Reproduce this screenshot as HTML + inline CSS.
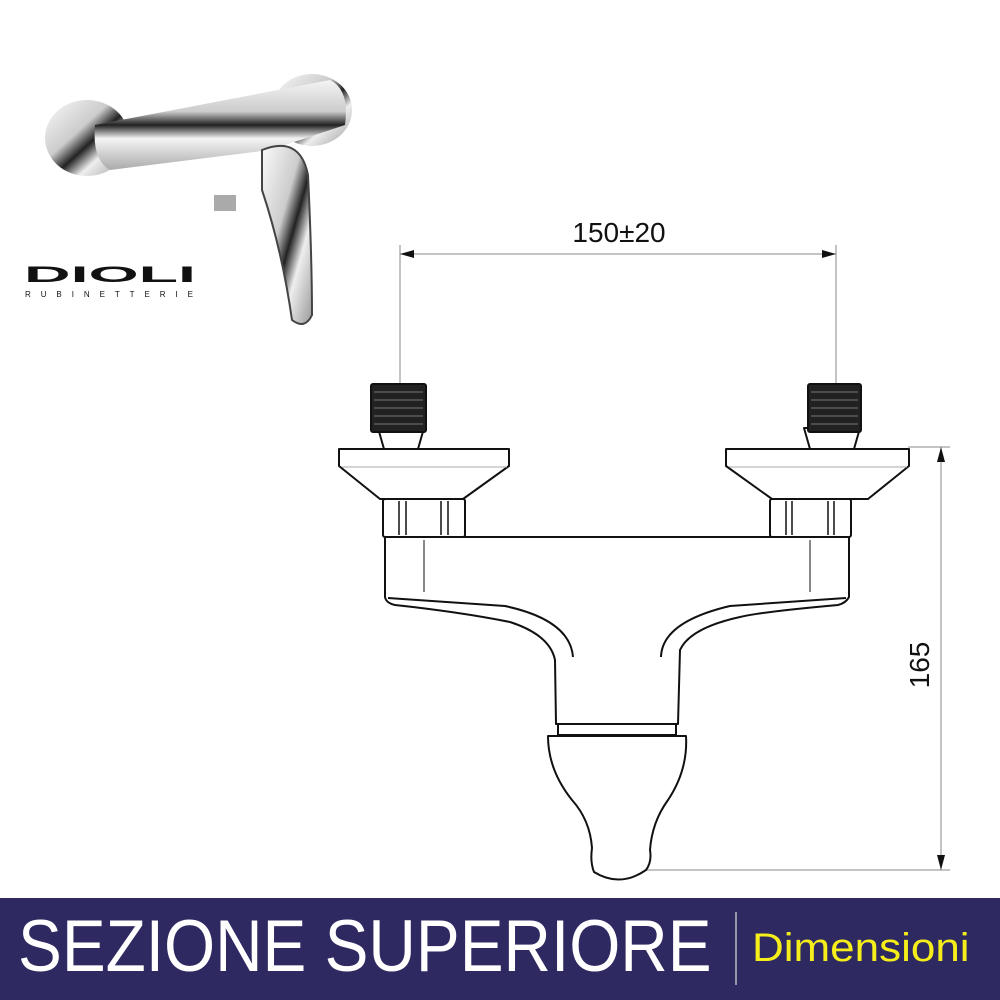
<!DOCTYPE html>
<html><head><meta charset="utf-8"><style>
html,body{margin:0;padding:0;background:#fff;width:1000px;height:1000px;overflow:hidden}
svg{display:block}
</style></head><body>
<svg width="1000" height="1000" viewBox="0 0 1000 1000" xmlns="http://www.w3.org/2000/svg">
<defs>
<linearGradient id="chrome" x1="0" y1="0" x2="1" y2="1">
<stop offset="0" stop-color="#fafafa"/><stop offset="0.4" stop-color="#ccc"/><stop offset="0.55" stop-color="#222"/><stop offset="0.7" stop-color="#eee"/><stop offset="1" stop-color="#999"/>
</linearGradient>
<linearGradient id="ch2" x1="0" y1="0" x2="0" y2="1">
<stop offset="0" stop-color="#f4f4f4"/><stop offset="0.35" stop-color="#ccc"/><stop offset="0.5" stop-color="#222"/><stop offset="0.65" stop-color="#f4f4f4"/><stop offset="1" stop-color="#aaa"/>
</linearGradient>
</defs>
<!-- product photo approx -->
<ellipse cx="87" cy="138" rx="42" ry="38" fill="url(#chrome)"/>
<ellipse cx="312" cy="110" rx="40" ry="36" fill="url(#chrome)"/>
<path d="M95 125 L330 80 Q350 90 345 125 L270 150 L110 170 Q92 160 95 125Z" fill="url(#ch2)"/>
<rect x="214" y="195" width="22" height="16" fill="#aaa"/>
<path d="M262 150 Q300 135 308 175 Q312 260 312 315 Q305 330 292 320 Q282 250 262 190Z" fill="url(#chrome)" stroke="#444" stroke-width="2"/>
<!-- logo -->
<text x="24" y="282" font-family="Liberation Sans, sans-serif" font-weight="bold" font-size="22" textLength="172" lengthAdjust="spacingAndGlyphs" fill="#111">DIOLI</text>
<text x="25" y="297" font-family="Liberation Sans, sans-serif" font-size="8" textLength="168" lengthAdjust="spacing" fill="#111">RUBINETTERIE</text>

<!-- dimensions -->
<g stroke="#888" stroke-width="1" fill="none">
<line x1="400" y1="245" x2="400" y2="385"/>
<line x1="836" y1="245" x2="836" y2="385"/>
<line x1="400" y1="254" x2="836" y2="254"/>
<line x1="908" y1="447" x2="950" y2="447"/>
<line x1="645" y1="870" x2="950" y2="870"/>
<line x1="941" y1="447" x2="941" y2="870"/>
</g>
<g fill="#111">
<polygon points="400,254 414,250 414,258"/>
<polygon points="836,254 822,250 822,258"/>
<polygon points="941,447 937,462 945,462"/>
<polygon points="941,870 937,855 945,855"/>
</g>
<text x="619" y="242" text-anchor="middle" font-family="Liberation Sans, sans-serif" font-size="28" fill="#111">150±20</text>
<text transform="translate(929,665) rotate(-90)" text-anchor="middle" font-family="Liberation Sans, sans-serif" font-size="28" fill="#111">165</text>

<!-- drawing -->
<g stroke="#111" stroke-width="2" fill="#fff" stroke-linejoin="round">
<path d="M378 428 L384 449 L418 449 L424 428Z"/>
<rect x="371" y="384" width="55" height="48" rx="2" fill="#222"/>
<path d="M339 449 L509 449 L509 466 L463 499 L380 499 L339 466Z"/>
<line x1="342" y1="467" x2="507" y2="467" stroke="#aaa" stroke-width="1"/>
<rect x="383" y="499" width="82" height="38" rx="2"/>
<line x1="399" y1="501" x2="399" y2="535" stroke-width="1.5"/>
<line x1="406" y1="501" x2="406" y2="535" stroke-width="1.5"/>
<line x1="441" y1="501" x2="441" y2="535" stroke-width="1.5"/>
<line x1="448" y1="501" x2="448" y2="535" stroke-width="1.5"/>
<path d="M804 428 L810 449 L854 449 L860 428Z"/>
<rect x="808" y="384" width="53" height="48" rx="2" fill="#222"/>
<path d="M726 449 L909 449 L909 466 L868 499 L772 499 L726 466Z"/>
<line x1="729" y1="467" x2="907" y2="467" stroke="#aaa" stroke-width="1"/>
<rect x="770" y="499" width="81" height="38" rx="2"/>
<line x1="786" y1="501" x2="786" y2="535" stroke-width="1.5"/>
<line x1="792" y1="501" x2="792" y2="535" stroke-width="1.5"/>
<line x1="828" y1="501" x2="828" y2="535" stroke-width="1.5"/>
<line x1="834" y1="501" x2="834" y2="535" stroke-width="1.5"/>
<path d="M385 537 L849 537 L849 597 Q846 603 838 605 Q760 612 740 617 Q690 628 680 650 L678 724 L556 724 L555 660 Q550 635 510 622 Q460 612 395 605 Q386 603 385 597Z"/>
<path d="M388 598 L505 606 Q570 620 573 657" fill="none"/>
<path d="M846 598 L730 606 Q662 622 661 657" fill="none"/>
<line x1="424" y1="540" x2="424" y2="592" stroke-width="1"/>
<line x1="810" y1="540" x2="810" y2="592" stroke-width="1"/>
<rect x="558" y="724" width="118" height="11"/>
<path d="M548 736 L686 736 Q688 770 668 800 Q652 822 650 850 Q652 862 646 870 Q620 888 594 872 Q590 862 592 848 Q590 820 572 800 Q548 770 548 736Z"/>
</g>
<g stroke="#777" stroke-width="1">
<line x1="374" y1="392" x2="423" y2="392"/><line x1="374" y1="400" x2="423" y2="400"/><line x1="374" y1="408" x2="423" y2="408"/><line x1="374" y1="416" x2="423" y2="416"/><line x1="374" y1="424" x2="423" y2="424"/>
<line x1="811" y1="392" x2="858" y2="392"/><line x1="811" y1="400" x2="858" y2="400"/><line x1="811" y1="408" x2="858" y2="408"/><line x1="811" y1="416" x2="858" y2="416"/><line x1="811" y1="424" x2="858" y2="424"/>
</g>

<!-- banner -->
<rect x="0" y="898" width="1000" height="102" fill="#2e2961"/>
<text transform="translate(18,971) scale(0.9,1)" font-family="Liberation Sans, sans-serif" font-size="73" fill="#fff">SEZIONE SUPERIORE</text>
<line x1="736" y1="912" x2="736" y2="985" stroke="#bbb" stroke-width="1.5"/>
<text transform="translate(752,961) scale(1.1,1)" font-family="Liberation Sans, sans-serif" font-size="40" fill="#f5ee1a">Dimensioni</text>
</svg>
</body></html>
